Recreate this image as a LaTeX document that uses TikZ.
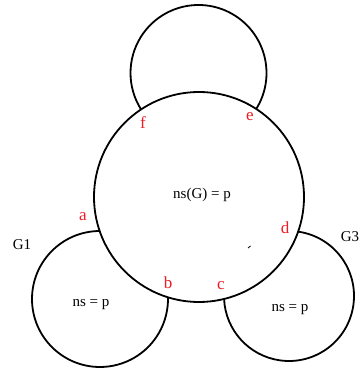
\documentclass[tikz,border=0pt]{standalone}
\usepackage{fontspec}
\setmainfont{Liberation Serif}
\usepackage{xcolor}
\usepackage{tikz}
\usetikzlibrary{calc}

\definecolor{ptred}{RGB}{237,28,36}

\begin{document}
\begin{tikzpicture}[x=1pt, y=1pt,
    rim/.style={line width=1.8pt, black},
    cutlbl/.style={text=ptred, font=\fontsize{17}{19}\selectfont, inner sep=0pt},
    txt/.style={font=\fontsize{15}{17}\selectfont, inner sep=0pt}]

    % =================================================================
    % 1. KHUNG VA TAM CAC DUONG TRON
    % =================================================================
    \useasboundingbox (0,0) rectangle (359,371);

    \coordinate (G) at (199,174);     % duong tron lon
    \coordinate (T) at (198.5,298);   % duong tron tren
    \coordinate (G1) at (100,72);     % duong tron trai
    \coordinate (G3) at (289,75);     % duong tron phai

    % Cac giao diem voi duong tron lon
    \coordinate (a) at ([shift={(90.25:68pt)}]G1);
    \coordinate (b) at ([shift={(1.45:68pt)}]G1);
    \coordinate (c) at ([shift={(182.62:65pt)}]G3);
    \coordinate (d) at ([shift={(81.92:65pt)}]G3);
    \coordinate (e) at ([shift={(-32.15:68pt)}]T);
    \coordinate (f) at ([shift={(212.15:68pt)}]T);

    % =================================================================
    % 2. VE CAC DUONG TRON
    % =================================================================
    \draw[rim] (G) circle (105pt);

    % Cac cung nam ngoai duong tron lon
    \draw[rim] (e) arc[start angle=-32.15, end angle=212.15, radius=68pt];
    \draw[rim] (a) arc[start angle=90.25, end angle=361.45, radius=68pt];
    \draw[rim] (d) arc[start angle=81.92, end angle=-177.38, radius=65pt];

    % Vet nho
    \draw[line width=0.8pt] (248,123) -- (250.5,125);

    % =================================================================
    % 3. NHAN
    % =================================================================
    \node[cutlbl] (la) at (83,154) {a};
    \node[cutlbl] (lb) at (168,88) {b};
    \node[cutlbl] (lc) at (221,85) {c};
    \node[cutlbl] (ld) at (285,143) {d};
    \node[cutlbl] (le) at (250,254) {e};
    \node[cutlbl] (lf) at (143,248) {f};

    \node[txt] (nsG) at (202,176) {ns(G) = p};
    \node[txt] (ns1) at (91,66) {ns = p};
    \node[txt] (ns3) at (290,61) {ns = p};
    \node[txt] (g1) at (22,126) {G1};
    \node[txt] (g3) at (350,134) {G3};

\end{tikzpicture}
\end{document}
